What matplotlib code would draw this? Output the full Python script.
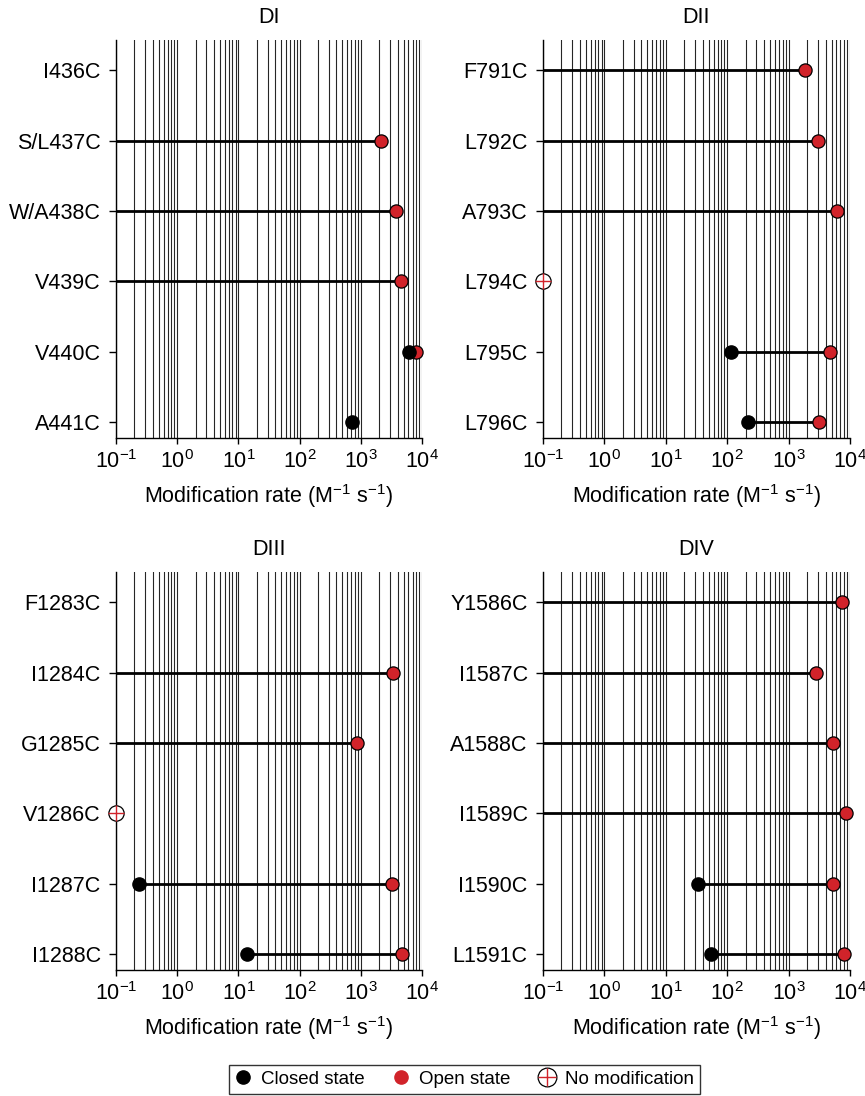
import numpy as np
import matplotlib
matplotlib.use("Agg")
import matplotlib.pyplot as plt
from matplotlib.lines import Line2D

plt.rcParams["font.family"] = ["Liberation Sans", "DejaVu Sans"]
plt.rcParams["mathtext.default"] = "regular"

NAN = np.nan
RED = "#d1232a"

# Panel data (nan = no rate measured)
titles = ["DI", "DII", "DIII", "DIV"]

labels_d1 = ["I436C", "S/L437C", "W/A438C", "V439C", "V440C", "A441C"]
closed_d1 = [NAN, NAN, NAN, NAN, 6200, 720]
open_d1 = [NAN, 2170, 3700, 4600, 8000, NAN]
nomod_d1 = [False, False, False, False, False, False]

labels_d2 = ["F791C", "L792C", "A793C", "L794C", "L795C", "L796C"]
closed_d2 = [NAN, NAN, NAN, NAN, 115, 218]
open_d2 = [1840, 3000, 6100, NAN, 4800, 3100]
nomod_d2 = [False, False, False, True, False, False]

labels_d3 = ["F1283C", "I1284C", "G1285C", "V1286C", "I1287C", "I1288C"]
closed_d3 = [NAN, NAN, NAN, NAN, 0.24, 13.8]
open_d3 = [NAN, 3300, 880, NAN, 3200, 4800]
nomod_d3 = [False, False, False, True, False, False]

labels_d4 = ["Y1586C", "I1587C", "A1588C", "I1589C", "I1590C", "L1591C"]
closed_d4 = [NAN, NAN, NAN, NAN, 33, 54]
open_d4 = [7400, 2800, 5300, 8500, 5300, 8000]
nomod_d4 = [False, False, False, False, False, False]

panels = [
    (labels_d1, closed_d1, open_d1, nomod_d1),
    (labels_d2, closed_d2, open_d2, nomod_d2),
    (labels_d3, closed_d3, open_d3, nomod_d3),
    (labels_d4, closed_d4, open_d4, nomod_d4),
]

XMIN, XMAX = 0.1, 1e4
W, H = 865, 1096
fig = plt.figure(figsize=(W / 100, H / 100), dpi=100)

# axes boxes in pixels: left, top, right, bottom
boxes = [(116, 40, 422, 438), (543, 40, 850, 438),
         (116, 572, 422, 970), (543, 572, 850, 970)]

ms = 9.5
FS = 15.5
for (labels, closed, opened, nomod), title, (l, t, r, b) in zip(panels, titles, boxes):
    ax = fig.add_axes([l / W, 1 - b / H, (r - l) / W, (b - t) / H])
    ax.set_xscale("log")
    ax.set_xlim(XMIN, XMAX)
    y = np.arange(len(labels))
    ax.set_ylim(5.23, -0.43)

    # vertical grid at every major and minor decade step
    grid_x = [m * 10.0 ** e for e in range(-1, 4) for m in range(1, 10)] + [1e4]
    for gx in grid_x:
        ax.axvline(gx, color="0.15", lw=0.8, zorder=1)

    for yi, c, o, nm in zip(y, closed, opened, nomod):
        if not np.isnan(o):
            start = c if not np.isnan(c) else XMIN
            ax.plot([start, o], [yi, yi], color="black", lw=2.0, zorder=2,
                    solid_capstyle="butt", clip_on=False)
            ax.plot(o, yi, "o", color=RED, mec="black", mew=0.9, ms=ms,
                    zorder=3, clip_on=False)
        if not np.isnan(c):
            ax.plot(c, yi, "o", color="black", mec="black", ms=ms, zorder=4,
                    clip_on=False)
        if nm:
            ax.plot(XMIN, yi, "o", color="white", mec="black", mew=0.9,
                    ms=ms + 1.5, zorder=4, clip_on=False)
            ax.plot(XMIN, yi, "+", color=RED, mew=1.0, ms=ms + 1.5, zorder=5,
                    clip_on=False)

    ax.set_yticks(y)
    ax.set_yticklabels(labels, fontsize=FS)
    ax.set_xticks([10.0 ** e for e in range(-1, 5)])
    ax.tick_params(axis="x", labelsize=FS, length=4, width=1, pad=5)
    ax.tick_params(axis="x", which="minor", length=2.5, width=0.8)
    ax.tick_params(axis="y", length=5, width=1, pad=6)
    for s in ["top", "right"]:
        ax.spines[s].set_visible(False)
    ax.spines["left"].set_linewidth(1.0)
    ax.spines["bottom"].set_linewidth(1.0)
    ax.set_xlabel("Modification rate (M$^{-1}$ s$^{-1}$)", fontsize=FS, labelpad=6)
    ax.set_title(title, fontsize=FS, pad=12)

h_closed = Line2D([], [], ls="none", marker="o", color="black", ms=ms)
h_open = Line2D([], [], ls="none", marker="o", color=RED, ms=ms)
h_nm_o = Line2D([], [], ls="none", marker="o", color="white", mec="black",
                mew=0.9, ms=ms + 4)
h_nm_p = Line2D([], [], ls="none", marker="+", color=RED, mew=1.0, ms=ms + 4)
leg = fig.legend([h_closed, h_open, (h_nm_o, h_nm_p)],
                 ["Closed state", "Open state", "No modification"],
                 loc="upper center", bbox_to_anchor=(0.537, 0.028), ncol=3,
                 fontsize=13.5, frameon=True, fancybox=False, edgecolor="black",
                 handlelength=0.9, handletextpad=0.5, columnspacing=1.5,
                 borderpad=0.3, borderaxespad=0)
leg.get_frame().set_linewidth(1.0)

fig.savefig("out.png", dpi=100)
